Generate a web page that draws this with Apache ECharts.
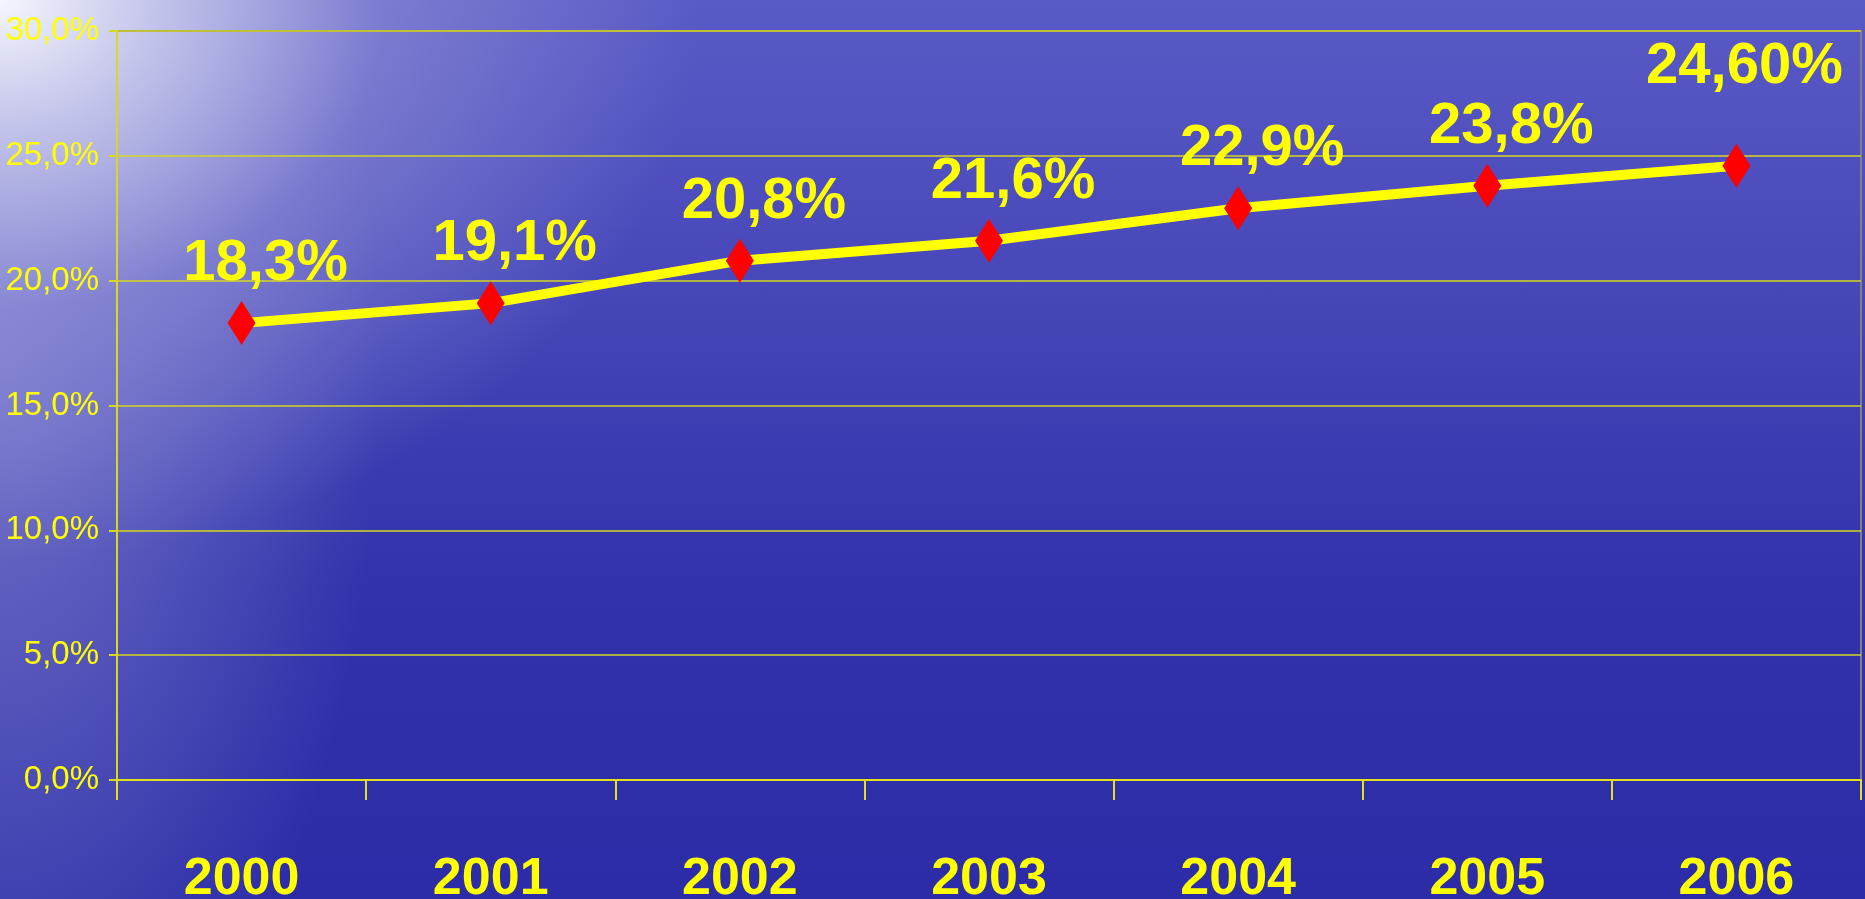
<!DOCTYPE html>
<html>
<head>
<meta charset="utf-8">
<script src="https://cdn.jsdelivr.net/npm/echarts@6/dist/echarts.min.js"></script>
<style>
html,body{margin:0;padding:0;width:1865px;height:899px;overflow:hidden;}
body{
  background:
    radial-gradient(ellipse 700px 560px at 0% 0%, rgba(244,246,253,1) 0%, rgba(205,206,238,0.9) 22%, rgba(150,150,218,0.55) 55%, rgba(90,90,195,0) 100%),
    radial-gradient(ellipse 380px 800px at 0% 40%, rgba(170,170,225,0.5) 0%, rgba(120,120,210,0) 100%),
    linear-gradient(to bottom, #5a5ac6 0%, #4545b8 35%, #3232ab 65%, #2c2ca8 100%);
}
#chart{width:1865px;height:899px;}
</style>
</head>
<body>
<div id="chart"></div>
<script>
var categories = ['2000', '2001', '2002', '2003', '2004', '2005', '2006'];
var values = [18.3, 19.1, 20.8, 21.6, 22.9, 23.8, 24.6];
var valueLabels = ['18,3%', '19,1%', '20,8%', '21,6%', '22,9%', '23,8%', '24,60%'];
var yTickLabels = ['0,0%', '5,0%', '10,0%', '15,0%', '20,0%', '25,0%', '30,0%'];

var narrow = "'Liberation Sans Narrow', 'Arial Narrow', 'Liberation Sans', sans-serif";
var yellow = '#ffff00';

var seriesData = values.map(function (v, i) {
  var item = { value: v };
  if (i === values.length - 1) {
    item.label = { offset: [8, -40] };
  }
  return item;
});

var chart = echarts.init(document.getElementById('chart'), null, { renderer: 'canvas' });
chart.setOption({
  backgroundColor: 'transparent',
  animation: false,
  grid: {
    left: 117, right: 4, top: 31, bottom: 119,
    containLabel: false,
    outerBoundsMode: 'none',
    show: true, borderColor: '#808080', borderWidth: 2, backgroundColor: 'transparent'
  },
  xAxis: {
    type: 'category',
    data: categories,
    boundaryGap: true,
    axisLine: { show: true, lineStyle: { color: '#e0e020', width: 2 } },
    axisTick: { show: true, interval: 0, length: 20, lineStyle: { color: '#e0e020', width: 2 } },
    axisLabel: {
      color: yellow, fontFamily: narrow, fontWeight: 'bold', fontSize: 52, margin: 74
    },
    splitLine: { show: false }
  },
  yAxis: {
    type: 'value',
    min: 0, max: 30, interval: 5,
    axisLine: { show: true, lineStyle: { color: '#d8d820', width: 2 } },
    axisTick: { show: true, length: 8, lineStyle: { color: '#d8d820', width: 2 } },
    axisLabel: {
      color: yellow, fontFamily: narrow, fontSize: 33, margin: 18,
      formatter: function (v) { return yTickLabels[Math.round(v / 5)]; }
    },
    splitLine: { show: true, lineStyle: { color: '#d6d620', width: 1.5 } }
  },
  series: [{
    type: 'line',
    data: seriesData,
    symbol: 'diamond',
    symbolSize: [28, 44],
    itemStyle: { color: '#ff0000', borderWidth: 0 },
    lineStyle: { color: yellow, width: 10 },
    z: 5,
    label: {
      show: true,
      position: 'top',
      distance: 8,
      offset: [24, 0],
      color: yellow,
      fontFamily: narrow,
      fontWeight: 'bold',
      fontSize: 58,
      formatter: function (p) { return valueLabels[p.dataIndex]; }
    }
  }]
});
</script>
</body>
</html>
